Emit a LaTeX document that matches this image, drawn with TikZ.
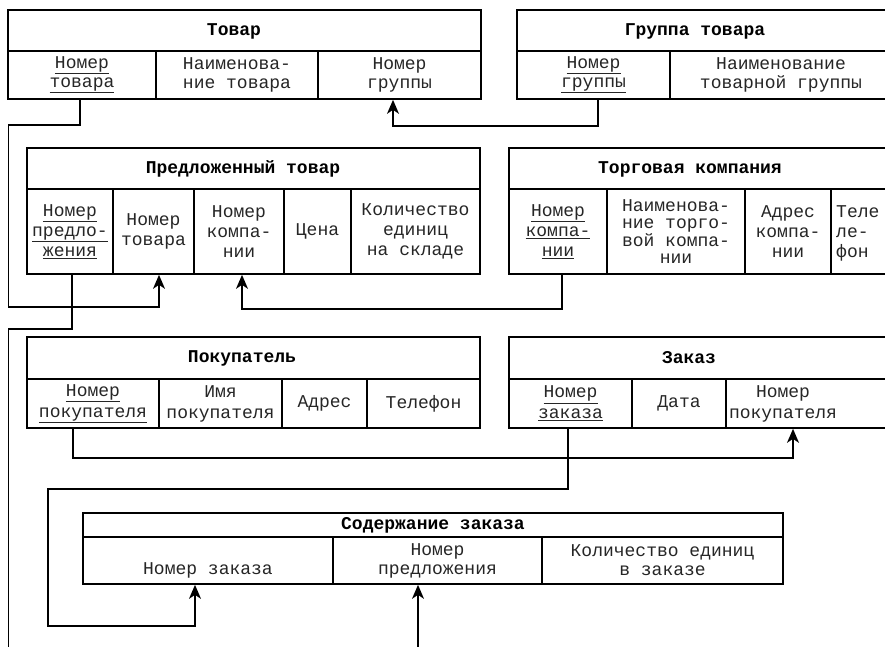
\documentclass[tikz,border=0pt]{standalone}
\usepackage{fontspec}
\setmainfont{Liberation Mono}
\usetikzlibrary{arrows.meta}
\begin{document}
\begin{tikzpicture}[x=1pt,y=-1pt,
  lead/.style={font=\fontsize{18}{#1}\selectfont},
  box/.style={draw, line width=1.7pt, inner sep=0pt, align=center,
    lead=19, text=black!85},
  txt/.style={inner sep=0pt, align=center, lead=19, text=black!85},
  title/.style={inner sep=0pt, font=\bfseries\fontsize{18}{18}\selectfont},
  link/.style={line width=1.4pt},
  arr/.style={link, -{Stealth[length=14pt,width=12pt,inset=4pt]}}]
% cell: [extra style] name, x1, y1, x2, y2, text
\newcommand\cellbox[7][]{\node[box, #1, minimum width={#5-#3}, minimum height={#6-#4}] (#2) at ({(#3+#5)/2},{(#4+#6)/2}) {#7};}
\useasboundingbox (0,0) rectangle (885,647);
\fill[white] (0,0) rectangle (885,647);
\clip (0,0) rectangle (885,647);

% Товар
\cellbox{th}{8}{10}{481}{51}{}
\node[title] (tt) at (234,31) {Товар};
\cellbox{t1}{8}{51}{156}{99}{\underline{Номер}\\\underline{товара}}
\cellbox{t2}{156}{51}{318}{99}{Наименова-\\ние товара}
\cellbox{t3}{318}{51}{481}{99}{Номер\\группы}

% Группа товара
\cellbox{gh}{517}{10}{892}{51}{}
\node[title] (gt) at (695,31) {Группа товара};
\cellbox{g1}{517}{51}{670}{99}{\underline{Номер}\\\underline{группы}}
\cellbox{g2}{670}{51}{892}{99}{Наименование\\товарной группы}

% Предложенный товар
\cellbox{ph}{27}{148}{480}{189}{}
\node[title] (pt) at (243,169) {Предложенный товар};
\cellbox[lead=20]{p1}{27}{189}{113}{274}{\underline{Номер}\\\underline{предло-}\\\underline{жения}}
\cellbox[lead=20]{p2}{113}{189}{194}{274}{Номер\\товара}
\cellbox[lead=20]{p3}{194}{189}{284}{274}{Номер\\компа-\\нии}
\cellbox[lead=20]{p4}{284}{189}{351}{274}{Цена}
\cellbox[lead=20]{p5}{351}{189}{480}{274}{Количество\\единиц\\на складе}

% Торговая компания
\cellbox{kh}{509}{148}{892}{189}{}
\node[title] (kt) at (690,169) {Торговая компания};
\cellbox[lead=20]{k1}{509}{189}{607}{274}{\underline{Номер}\\\underline{компа-}\\\underline{нии}}
\cellbox[lead=17.5]{k2}{607}{189}{745}{274}{Наименова-\\ние торго-\\вой компа-\\нии}
\cellbox[lead=20]{k3}{745}{189}{831}{274}{Адрес\\компа-\\нии}
\cellbox{k4}{831}{189}{892}{274}{}
\node[txt, lead=20, align=left, anchor=west] (k4t) at (836,233) {Теле\\ле-\\фон};

% Покупатель
\cellbox{bh}{27}{337}{480}{379}{}
\node[title] (bt) at (242,358) {Покупатель};
\cellbox[lead=21]{b1}{27}{379}{159}{428}{\underline{Номер}\\\underline{покупателя}}
\cellbox[lead=21]{b2}{159}{379}{282}{428}{Имя\\покупателя}
\cellbox{b3}{282}{379}{367}{428}{Адрес}
\cellbox{b4}{367}{379}{480}{428}{Телефон}

% Заказ
\cellbox{zh}{509}{337}{892}{379}{}
\node[title] (zt) at (689,358) {Заказ};
\cellbox[lead=21]{z1}{509}{379}{632}{428}{\underline{Номер}\\\underline{заказа}}
\cellbox{z2}{632}{379}{726}{428}{Дата}
\cellbox{z3}{726}{379}{892}{428}{}
\node[txt, lead=21] (z3t) at (783,403.5) {Номер\\покупателя};

% Содержание заказа
\cellbox{sh}{83}{513}{783}{537}{}
\node[title] (st) at (433,525) {Содержание заказа};
\cellbox{s1}{83}{537}{333}{584}{\vphantom{Номер}\\Номер заказа}
\cellbox{s2}{333}{537}{542}{584}{Номер\\предложения}
\cellbox{s3}{542}{537}{783}{584}{Количество единиц\\в заказе}

% free ends at the lower edge
\coordinate (bot1) at (8.5,650);
\coordinate (bot2) at (418,650);

% links between keys
\draw[arr] ([xshift=-2]t1.south) -- ++(0,25) -| (8.5,307) -| ([xshift=5.5]p2.south);
\draw[arr] ([xshift=4.5]g1.south) -- ++(0,26) -| ([xshift=-6.5]t3.south);
\draw[arr] ([xshift=4]k1.south) -- ++(0,34) -| ([xshift=3]p3.south);
\draw[link] ([xshift=2]p1.south) -- ++(0,54) -| (bot1);
\draw[arr] (bot2) -- ([xshift=-19.5]s2.south);
\draw[arr] ([xshift=-20]b1.south) -- ++(0,29) -| ([xshift=-16]z3.south);
\draw[arr] ([xshift=-2.5]z1.south) -- ++(0,60) -| (48,626) -| ([xshift=-13]s1.south);
\end{tikzpicture}
\end{document}
